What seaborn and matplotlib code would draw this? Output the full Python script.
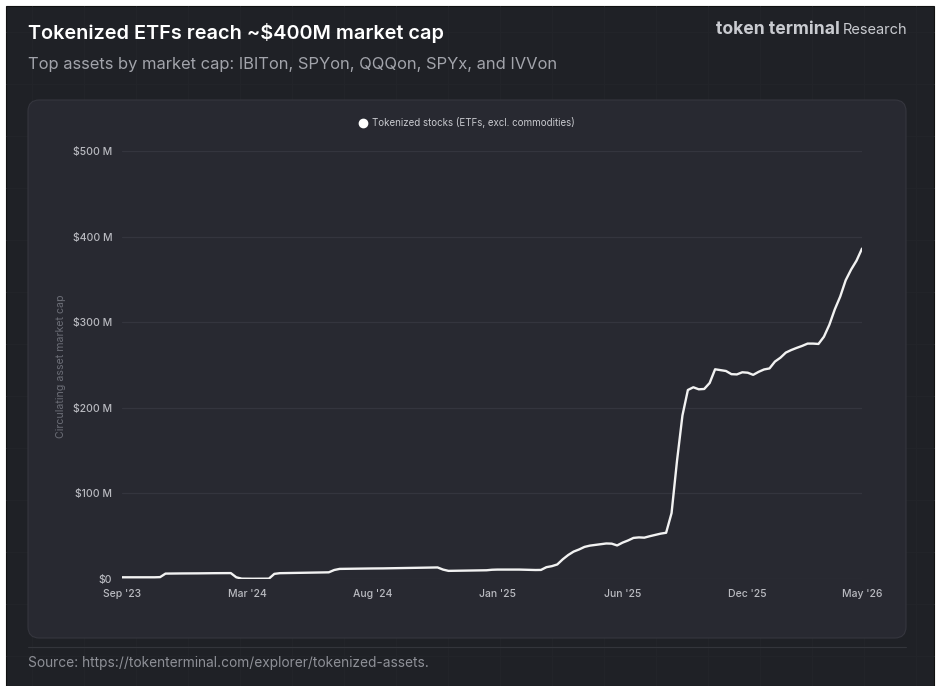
import numpy as np
import pandas as pd
import matplotlib
matplotlib.use("Agg")
import matplotlib.pyplot as plt
import matplotlib.dates as mdates
from matplotlib.patches import FancyBboxPatch, Rectangle
from matplotlib.lines import Line2D
import seaborn as sns

# ---------------- data ----------------
start_date = "2023-09-25"
n_weeks = 137
market_cap_m = [
    2.0, 2.0, 2.0, 2.0, 2.0, 2.0, 2.0, 2.2,
    6.3, 6.4, 6.4, 6.5, 6.5, 6.6, 6.6, 6.7, 6.7, 6.8, 6.8, 6.9, 6.9,
    2.0, 0.4, 0.3, 0.3, 0.3, 0.3, 0.4,
    6.0, 6.8, 6.9, 7.0, 7.1, 7.2, 7.3, 7.4, 7.5, 7.6, 7.8,
    10.5, 11.8, 11.9, 12.0, 12.0, 12.1, 12.2, 12.3, 12.3, 12.4, 12.5, 12.6, 12.7, 12.8, 12.9, 13.0, 13.1, 13.2, 13.3, 13.5,
    11.0, 9.5, 9.6, 9.7, 9.8, 9.8, 9.9, 10.0, 10.2,
    10.8, 11.0, 11.0, 11.1, 11.1, 11.0, 10.8, 10.6, 10.5, 10.6,
    13.8, 15.0, 17.0, 23.0, 28.0, 32.0, 34.5, 37.5, 39.0, 39.8, 40.5, 41.5, 41.3, 39.2, 42.5, 45.0, 48.0, 48.6, 48.3, 50.0, 51.5, 53.0, 54.0,
    77.0, 138.0, 191.0, 220.8, 224.0, 221.6, 222.0, 229.0, 245.0, 244.0, 243.0, 239.3, 239.0, 241.5, 241.0, 238.5, 242.0, 244.8,
    246.0, 254.0, 258.5, 264.5, 267.5, 270.0, 272.3, 275.0, 275.0, 274.6, 283.0, 297.0, 315.0, 330.0, 349.0, 361.5, 372.0, 386.0,
]
series_name = "Tokenized stocks (ETFs, excl. commodities)"
y_ticks = [0, 100, 200, 300, 400, 500]
y_tick_labels = ["$0", "$100 M", "$200 M", "$300 M", "$400 M", "$500 M"]
x_tick_dates = ["2023-09-25", "2024-03-04", "2024-08-12", "2025-01-20",
                "2025-06-30", "2025-12-08", "2026-05-04"]

dates = pd.date_range(start_date, periods=n_weeks, freq="7D")
df = pd.DataFrame({"date": dates, "value": market_cap_m})

# ---------------- style ----------------
sns.set_theme(style="dark")
plt.rcParams["font.family"] = ["Inter", "DejaVu Sans"]

W, H = 937, 686
OUTER = "#1f2126"
PANEL = "#282931"
GRID = "#34353e"

fig = plt.figure(figsize=(W / 100, H / 100), dpi=100)
fig.patch.set_facecolor("white")

def fx(x):
    return x / W

def fy(y):
    return 1 - y / H

# outer dark card
fig.patches.append(Rectangle((fx(6), 0), fx(928), fy(6), transform=fig.transFigure,
                             facecolor=OUTER, edgecolor="#111111", lw=0.8, zorder=0))
# faint background grid
for gx in np.arange(6 + 26, 934, 52):
    fig.add_artist(Line2D([fx(gx), fx(gx)], [0, fy(6)], transform=fig.transFigure,
                          color="#222429", lw=0.8, zorder=0.5))
for gy in np.arange(6 + 26, 686, 52):
    fig.add_artist(Line2D([fx(6), fx(934)], [fy(gy), fy(gy)], transform=fig.transFigure,
                          color="#222429", lw=0.8, zorder=0.5))

# inner rounded panel
fig.patches.append(FancyBboxPatch((fx(28), fy(638)), fx(878), (638 - 100) / H,
                                  boxstyle="round,pad=0,rounding_size=0.012",
                                  transform=fig.transFigure, facecolor=PANEL,
                                  edgecolor="#35363e", lw=0.8, zorder=1,
                                  mutation_aspect=W / H))
# separator line
fig.add_artist(Line2D([fx(28), fx(906)], [fy(647), fy(647)], transform=fig.transFigure,
                      color="#33353b", lw=0.8, zorder=1))

# ---------------- axes ----------------
ax = fig.add_axes([fx(122), fy(579), fx(862) - fx(122), (579 - 151) / H])
ax.set_facecolor("none")
ax.set_zorder(2)

sns.lineplot(data=df, x="date", y="value", ax=ax, color="#f2f2f2", linewidth=1.7,
             label=series_name, legend=False)

ax.set_xlim(dates[0], dates[-1])
ax.set_ylim(0, 500)
ax.set_yticks(y_ticks)
ax.set_yticklabels(y_tick_labels)
ax.set_xticks(pd.to_datetime(x_tick_dates))
ax.xaxis.set_major_formatter(mdates.DateFormatter("%b '%y"))
ax.grid(axis="y", color=GRID, lw=0.9)
ax.grid(axis="x", visible=False)
for s in ax.spines.values():
    s.set_visible(False)
ax.tick_params(axis="both", length=0, colors="#b9bac0", labelsize=7.5)
ax.tick_params(axis="y", pad=7)
ax.tick_params(axis="x", pad=7)
for lab in ax.get_xticklabels() + ax.get_yticklabels():
    lab.set_fontweight("medium")
ax.set_xlabel("")
ax.set_ylabel("")

fig.text(fx(61), fy(366), "Circulating asset market cap", rotation=90, ha="center",
         va="center", color="#6c6e77", fontsize=7.6)

# legend
handle = Line2D([], [], marker="o", linestyle="none", markersize=6,
                markerfacecolor="white", markeredgecolor="white")
leg = fig.legend([handle], [series_name], loc="center", bbox_to_anchor=(fx(467), fy(123)),
                 frameon=False, fontsize=7, handletextpad=0.5, labelcolor="#c9cacf",
                 handlelength=0.8)

# ---------------- titles ----------------
fig.text(fx(28), fy(33), "Tokenized ETFs reach ~$400M market cap", ha="left", va="center",
         color="white", fontsize=14.3, fontweight="semibold")
fig.text(fx(28), fy(64), "Top assets by market cap: IBITon, SPYon, QQQon, SPYx, and IVVon",
         ha="left", va="center", color="#a2a4ab", fontsize=11.9)
fig.text(fx(840), fy(29), "token terminal", ha="right", va="center", color="#c9cbd0",
         fontsize=12.6, fontweight="bold")
fig.text(fx(843), fy(30), "Research", ha="left", va="center", color="#c9cbd0", fontsize=10.5)
fig.text(fx(28), fy(663), "Source: https://tokenterminal.com/explorer/tokenized-assets.",
         ha="left", va="center", color="#8e9097", fontsize=9.9)

fig.savefig("out.png", dpi=100, facecolor=fig.get_facecolor())
